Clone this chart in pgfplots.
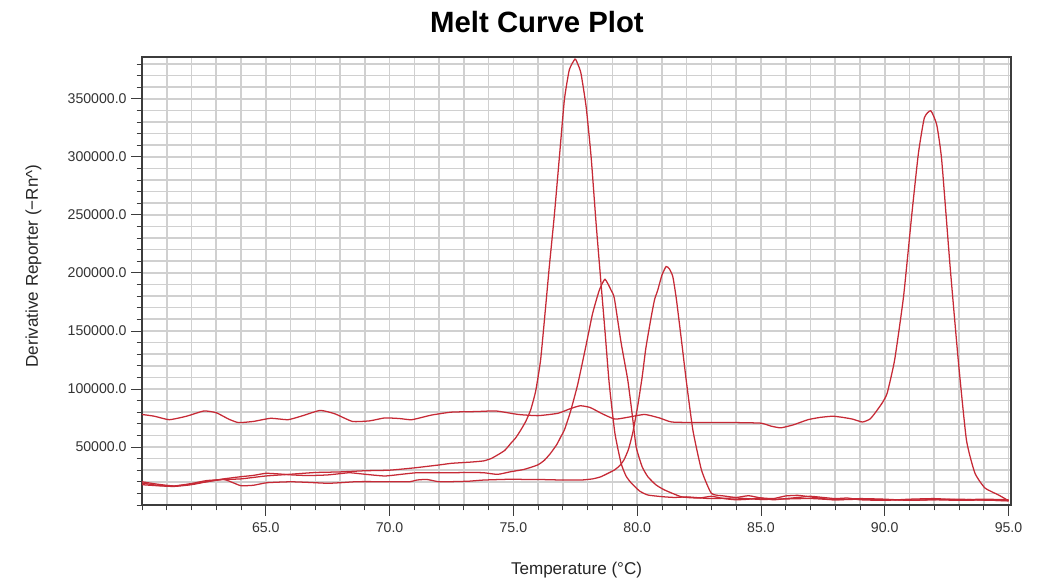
\documentclass[border=0pt]{standalone}
\usepackage{fontspec}
\setmainfont{Liberation Sans}
\usepackage{pgfplots}
\usepackage{pgfplotstable}
\pgfplotsset{compat=1.18}

\definecolor{meltred}{RGB}{198,42,54}
\definecolor{gridgray}{RGB}{208,208,208}
\definecolor{framegray}{RGB}{60,60,60}

% derivative curves: temperature, -Rn'
\pgfplotstableread{
T v
60.0 78000
60.5 76500
61.1 73500
61.8 76500
62.5 81000
63.0 79500
63.5 74000
63.9 71000
64.5 72000
65.2 74700
65.9 73500
66.5 77000
67.2 81500
67.8 78500
68.5 72000
69.2 72500
69.8 75000
70.4 74500
70.9 73500
71.7 77500
72.5 80000
73.5 80500
74.3 81000
75.2 78000
76.0 77000
76.8 79000
77.3 83000
77.7 85500
78.1 84000
78.6 78500
79.1 74000
79.6 75500
80.3 78000
80.9 75000
81.4 71500
82.5 71000
84.0 71000
85.0 70500
85.4 68000
85.8 66500
86.3 69000
86.9 73500
87.4 75500
87.9 76500
88.3 75500
88.7 74000
89.1 71500
89.4 74000
89.6 79000
89.9 88000
90.1 96500
90.4 125000
90.76 179600
91.1 251700
91.36 303000
91.6 333600
91.86 339700
92.1 327600
92.3 297400
92.64 205500
92.98 122300
93.3 56000
93.64 27600
94.05 14600
94.6 8600
95.0 3700
}\curveA

\pgfplotstableread{
T v
60.0 19000
60.6 17000
61.3 16400
62.0 18500
62.6 21000
63.3 22000
64.0 22500
65.0 25000
66.0 26500
67.0 28000
68.0 28500
69.0 29500
70.0 30000
71.0 32000
72.0 34500
72.5 35900
73.3 37000
73.8 38000
74.1 40000
74.36 43100
74.65 47000
74.9 53200
75.1 58000
75.3 64600
75.5 72000
75.7 82000
75.9 98000
76.1 125000
76.3 170000
76.45 205000
76.65 248500
76.86 300000
77.06 349000
77.26 375000
77.49 384200
77.6 380000
77.73 372000
77.94 343000
78.14 300000
78.34 243000
78.54 191000
78.7 150000
78.87 105000
79.1 62000
79.35 36000
79.55 25000
79.76 19000
80.1 12000
80.43 8600
81.0 7200
81.5 6500
82.0 7000
82.5 6200
83.0 5500
84.0 6000
85.0 4800
86.0 5200
87.0 5600
88.0 4500
89.0 5000
90.0 4600
91.0 4200
92.0 4500
93.0 4000
94.0 4300
95.0 3500
}\curveB

\pgfplotstableread{
T v
60.0 17500
60.7 16500
61.3 16000
62.0 17500
62.6 20000
63.3 22500
64.0 24400
64.5 25500
65.0 27300
65.5 26800
66.0 26000
66.5 25500
67.0 25500
67.5 25900
68.0 27000
68.4 27800
69.0 26500
69.8 25000
70.5 26500
71.1 27800
72.0 27800
72.5 27800
73.2 28000
73.8 27800
74.36 26400
74.9 28700
75.44 30700
75.98 34500
76.25 38500
76.5 44500
76.75 52000
76.92 58900
77.06 64600
77.3 80000
77.6 104000
77.94 138000
78.2 165000
78.47 185000
78.7 194500
78.95 185000
79.08 178000
79.35 140000
79.62 107800
79.8 78000
79.96 50000
80.2 33000
80.43 24400
80.75 17500
81.1 13000
81.8 7000
82.5 6000
83.0 7500
83.5 5500
84.0 4500
84.5 5000
85.0 6000
85.5 5500
86.0 7800
86.5 8300
87.0 7000
87.5 5500
88.0 4500
89.0 5500
90.0 5000
91.0 4000
92.0 4600
93.0 5000
94.0 4200
95.0 3800
}\curveC

\pgfplotstableread{
T v
60.0 20000
60.6 18000
61.3 16400
62.0 18000
62.6 20000
63.3 22000
63.7 19000
64.0 16600
64.5 17000
65.05 19200
66.0 20000
66.7 19500
67.5 18700
68.0 19200
68.7 20100
69.8 20100
70.8 20000
71.1 21500
71.5 22000
72.0 20000
72.5 20100
73.2 20500
73.8 21500
74.9 22200
75.5 22000
76.0 22000
77.0 21500
77.73 21500
78.2 22500
78.54 24400
79.07 30000
79.3 34000
79.47 39000
79.65 48000
79.82 62000
80.02 85000
80.2 110000
80.35 135000
80.55 160000
80.7 176700
80.83 185000
81.0 198000
81.17 205500
81.3 203500
81.44 196800
81.58 178000
81.8 140000
81.98 107800
82.25 64600
82.6 30000
83.0 10000
83.5 7800
84.0 6500
84.5 8000
85.0 6000
85.5 4500
86.0 5500
86.5 6500
87.0 7500
87.5 6500
88.0 5500
88.5 6000
89.0 4500
90.0 4000
91.0 5000
92.0 5500
93.0 4500
94.0 5000
95.0 4500
}\curveD

\begin{document}
\begin{tikzpicture}
\begin{axis}[
    scale only axis,
    width=651.75pt, height=336pt,
    xmin=60, xmax=95.1, ymin=0, ymax=386000,
    xtick={65,70,75,80,85,90,95},
    xticklabels={65.0,70.0,75.0,80.0,85.0,90.0,95.0},
    ytick={50000,100000,150000,200000,250000,300000,350000},
    yticklabels={50000.0,100000.0,150000.0,200000.0,250000.0,300000.0,350000.0},
    minor xtick={60,61,...,95},
    minor ytick={0,10000,...,380000},
    xtick pos=bottom, ytick pos=left,
    grid=both,
    major grid style={gridgray, line width=1.2pt},
    minor grid style={gridgray, line width=1.2pt},
    tick align=outside,
    major tick length=8pt, minor tick length=4pt,
    tick style={framegray, line width=0.6pt},
    axis line style={framegray, line width=1.1pt},
    ticklabel style={font=\fontsize{10.6}{12}\selectfont, text=black!80},
    xticklabel style={yshift=-2pt},
    scaled ticks=false,
]
\addplot[meltred, line width=0.95pt, smooth, tension=0.3] table {\curveA};
\addplot[meltred, line width=0.95pt, smooth, tension=0.3] table {\curveB};
\addplot[meltred, line width=0.95pt, smooth, tension=0.3] table {\curveC};
\addplot[meltred, line width=0.95pt, smooth, tension=0.3] table {\curveD};
\end{axis}
\node[anchor=base, font=\fontsize{22}{26}\selectfont\bfseries] at (296.25pt,354pt) {Melt Curve Plot};
\node[anchor=base, font=\fontsize{12.8}{15}\selectfont, text=black!85] at (325.9pt,-52.5pt) {Temperature (°C)};
\node[rotate=90, font=\fontsize{12.8}{15}\selectfont, text=black!85] at (-81.4pt,179.25pt) {Derivative Reporter (−Rn\textasciicircum)};
\pgfresetboundingbox
\path[use as bounding box] (-106.5pt,-54.75pt) rectangle (673.5pt,378.75pt);
\end{tikzpicture}
\end{document}
